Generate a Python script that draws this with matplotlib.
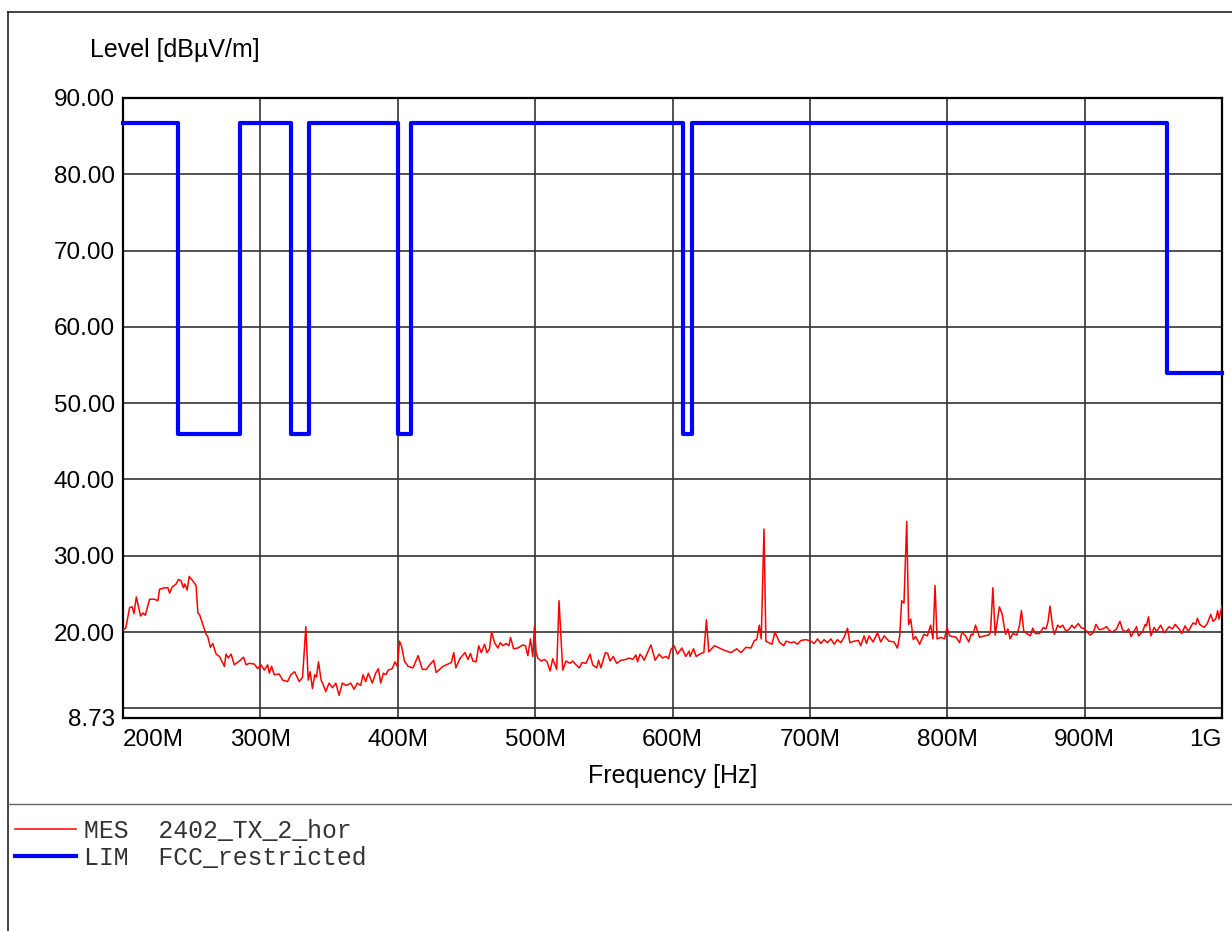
import matplotlib.pyplot as plt
from matplotlib.lines import Line2D

mes_freq = [200.0, 202.0, 204.8, 206.7, 208.0, 209.7, 212.8, 214.5, 216.2, 219.4,
            223.0, 225.4, 226.6, 230.3, 232.7, 233.9, 235.8, 238.7, 240.4, 242.3,
            244.0, 245.0, 246.7, 248.2, 250.8, 253.2, 254.5, 255.7, 258.1, 260.5,
            261.7, 263.6, 265.3, 267.8, 270.2, 273.8, 275.0, 276.7, 278.7, 281.0,
            284.7, 287.8, 289.6, 292.0, 295.6, 298.0, 300.4, 302.9, 305.3, 306.5,
            308.2, 310.1, 313.7, 316.2, 319.8, 322.2, 324.9, 328.3, 330.7, 333.1,
            334.8, 336.2, 337.9, 339.6, 340.8, 342.3, 344.2, 345.7, 347.6, 350.0,
            352.5, 354.9, 357.3, 359.7, 362.6, 365.8, 368.2, 370.6, 373.0, 374.7,
            376.6, 378.6, 381.5, 383.9, 385.9, 387.6, 389.5, 391.3, 393.0, 396.0,
            398.0, 399.7, 401.3, 402.7, 404.9, 407.5, 411.1, 414.8, 417.9, 420.8,
            423.2, 426.2, 428.0, 430.5, 433.0, 435.4, 439.0, 440.8, 442.3, 445.2,
            448.9, 451.2, 452.9, 454.7, 457.1, 458.9, 460.8, 463.2, 464.9, 466.8,
            468.3, 470.5, 472.9, 474.6, 476.5, 478.9, 480.9, 482.1, 484.3, 487.4,
            491.0, 493.0, 494.7, 496.6, 498.3, 499.5, 500.7, 501.9, 504.4, 506.8,
            508.7, 510.9, 512.8, 515.7, 517.4, 520.1, 522.5, 525.4, 527.4, 529.8,
            532.2, 534.1, 537.0, 540.0, 541.9, 544.8, 546.2, 547.9, 551.1, 552.8,
            554.5, 556.9, 559.3, 562.5, 566.1, 568.5, 571.0, 573.4, 574.6, 576.3,
            578.2, 579.4, 581.8, 584.3, 587.4, 590.3, 592.7, 595.2, 597.1, 598.8,
            601.2, 603.6, 606.8, 609.7, 612.1, 612.8, 615.3, 617.2, 620.8, 622.8,
            624.7, 626.4, 630.5, 634.1, 637.8, 642.6, 646.7, 649.9, 653.5, 657.1,
            659.6, 661.3, 663.2, 664.6, 666.6, 668.0, 672.4, 674.6, 677.7, 680.9,
            682.6, 686.2, 688.6, 691.0, 693.5, 697.1, 700.7, 703.1, 705.6, 708.0,
            710.4, 712.8, 715.3, 717.7, 720.1, 722.5, 724.9, 727.4, 729.1, 732.2,
            735.4, 737.0, 739.5, 741.2, 743.1, 746.0, 749.2, 751.6, 754.0, 757.6,
            761.3, 763.7, 765.4, 766.8, 768.5, 770.5, 771.9, 773.4, 775.3, 777.0,
            779.9, 783.0, 785.5, 787.9, 789.6, 791.1, 792.6, 795.4, 798.0, 799.8,
            801.7, 804.1, 806.5, 809.0, 810.7, 813.3, 815.7, 817.4, 818.6, 820.6,
            823.5, 827.1, 830.3, 831.5, 833.2, 834.9, 838.0, 840.0, 842.4, 844.1,
            845.8, 847.7, 850.6, 852.5, 854.0, 855.7, 858.6, 860.5, 862.2, 864.2,
            867.1, 870.0, 871.9, 873.4, 874.8, 876.8, 878.0, 880.4, 882.1, 884.0,
            886.4, 888.9, 890.8, 892.5, 895.4, 897.3, 899.8, 901.5, 903.9, 906.3,
            908.2, 910.7, 913.1, 916.0, 917.9, 920.3, 923.2, 925.7, 927.6, 930.0,
            932.0, 933.8, 936.0, 937.8, 939.2, 942.1, 944.1, 945.0, 946.5, 948.2,
            950.6, 952.5, 955.4, 957.9, 961.5, 963.9, 965.9, 968.8, 970.7, 973.1,
            975.5, 978.9, 980.9, 982.1, 983.8, 986.9, 989.3, 991.8, 993.5, 995.4,
            996.9, 997.8, 1000.0]
mes_level = [20.3, 20.5, 23.2, 23.3, 22.4, 24.6, 22.1, 22.5, 22.2, 24.3,
             24.3, 24.1, 25.6, 25.8, 25.8, 25.1, 25.9, 26.3, 26.9, 26.7,
             25.8, 26.3, 25.5, 27.3, 26.7, 26.1, 22.5, 22.3, 21.0, 19.7,
             19.4, 18.0, 18.5, 17.1, 16.8, 15.5, 17.1, 16.6, 17.1, 15.7,
             16.2, 16.7, 15.7, 15.9, 15.8, 15.2, 15.7, 15.0, 15.7, 14.6,
             15.5, 14.4, 14.5, 13.7, 13.5, 14.4, 14.8, 13.5, 14.1, 20.7,
             13.7, 14.8, 12.6, 14.4, 14.1, 16.1, 13.7, 13.1, 12.2, 13.3,
             12.7, 13.3, 11.7, 13.3, 13.0, 13.3, 12.5, 13.3, 13.0, 14.4,
             13.5, 14.6, 13.3, 14.6, 15.2, 13.3, 14.6, 14.4, 15.0, 15.2,
             16.1, 15.5, 18.8, 18.2, 16.2, 15.5, 15.3, 16.9, 15.1, 15.1,
             15.7, 16.3, 14.7, 15.1, 15.5, 15.7, 16.0, 17.3, 15.3, 16.5,
             17.3, 16.4, 17.2, 16.2, 16.1, 18.2, 17.3, 18.4, 17.3, 17.8,
             20.0, 18.6, 17.9, 18.6, 18.2, 18.5, 18.2, 19.3, 17.8, 17.9,
             18.3, 18.2, 16.9, 19.1, 16.8, 20.7, 17.3, 16.6, 16.2, 16.4,
             16.1, 14.9, 16.5, 15.1, 24.1, 15.0, 16.2, 15.9, 16.2, 15.7,
             15.3, 16.0, 15.9, 17.1, 15.7, 15.3, 16.3, 15.3, 17.3, 17.2,
             16.2, 16.8, 15.9, 16.3, 16.4, 16.6, 16.4, 17.0, 16.1, 17.1,
             16.7, 16.3, 17.3, 18.3, 16.3, 17.1, 16.6, 16.8, 16.5, 17.7,
             18.2, 17.1, 17.9, 16.8, 17.5, 16.8, 17.8, 16.8, 17.2, 17.3,
             21.6, 17.4, 18.2, 17.9, 17.6, 17.3, 17.8, 17.3, 18.0, 17.9,
             18.9, 19.0, 20.9, 19.1, 33.5, 18.8, 18.4, 20.0, 18.7, 18.2,
             18.8, 18.6, 18.7, 18.4, 18.9, 19.0, 18.8, 18.5, 19.1, 18.5,
             19.0, 18.6, 19.1, 18.4, 19.0, 18.6, 19.3, 20.5, 18.6, 18.8,
             18.9, 18.2, 19.5, 18.5, 19.5, 18.7, 19.9, 18.7, 19.5, 18.8,
             18.7, 17.9, 19.5, 24.1, 23.8, 34.5, 21.0, 21.7, 19.0, 19.4,
             18.4, 19.7, 19.5, 20.9, 19.1, 26.1, 19.1, 19.3, 19.1, 20.6,
             19.5, 19.4, 19.3, 18.6, 20.0, 19.5, 18.7, 19.7, 19.6, 20.9,
             19.3, 19.5, 19.6, 20.0, 25.8, 19.6, 23.3, 22.3, 19.7, 20.4,
             19.1, 19.8, 19.6, 20.8, 22.8, 20.1, 19.7, 19.5, 20.5, 19.8,
             19.8, 20.6, 20.4, 21.4, 23.4, 20.6, 19.7, 20.9, 20.6, 20.9,
             20.1, 20.4, 20.9, 20.5, 21.1, 20.6, 20.4, 20.1, 19.6, 19.9,
             21.0, 20.3, 20.4, 20.7, 20.2, 20.0, 20.4, 21.4, 20.3, 20.0,
             20.4, 19.4, 20.1, 20.7, 19.5, 20.0, 21.0, 20.8, 22.0, 19.5,
             20.6, 20.1, 20.9, 19.9, 20.7, 20.4, 21.0, 20.4, 19.8, 20.8,
             20.1, 21.2, 21.0, 21.8, 21.0, 20.6, 21.1, 22.3, 21.4, 21.7,
             22.8, 21.7, 23.4]

# FCC restricted-band limit (step line)
lim_freq = [200, 240, 285, 322, 335.4, 399.9, 410, 608, 614, 960, 1000]
lim_level = [86.73, 46.0, 86.73, 46.0, 86.73, 46.0, 86.73, 46.0, 86.73, 54.0, 54.0]

x_ticks = [200, 300, 400, 500, 600, 700, 800, 900, 1000]
x_labels = ['200M', '300M', '400M', '500M', '600M', '700M', '800M', '900M', '1G']
y_ticks = [8.73, 10, 20, 30, 40, 50, 60, 70, 80, 90]
y_labels = ['8.73', '', '20.00', '30.00', '40.00', '50.00', '60.00', '70.00', '80.00', '90.00']

W, H = 1232, 931
fig = plt.figure(figsize=(W / 100, H / 100), dpi=100)
ax = fig.add_axes([123 / W, 1 - 718 / H, (1222 - 123) / W, (718 - 98) / H])

ax.plot(mes_freq, mes_level, color='#ff0000', lw=1.1, label='MES  2402_TX_2_hor', zorder=3)
ax.plot(lim_freq, lim_level, color='#0000ff', lw=3.0, drawstyle='steps-post',
        label='LIM  FCC_restricted', zorder=4, clip_on=False)

ax.set_xlim(200, 1000)
ax.set_ylim(8.73, 90)
ax.set_xticks(x_ticks)
ax.set_xticklabels(x_labels, fontsize=17.5, family='Liberation Sans')
ax.set_yticks(y_ticks)
ax.set_yticklabels(y_labels, fontsize=17.5, family='Liberation Sans')
ax.tick_params(axis='both', length=0)
ax.tick_params(axis='y', pad=6)
ax.tick_params(axis='x', pad=8)
xl = ax.get_xticklabels()
xl[0].set_ha('left')
xl[-1].set_ha('right')
ax.grid(True, color='#333333', lw=1.2)
for s in ax.spines.values():
    s.set_linewidth(1.6)
    s.set_color('black')

fig.text(673 / W, 1 - 776 / H, 'Frequency [Hz]', ha='center', va='center',
         fontsize=18, family='Liberation Sans')
fig.text(90 / W, 1 - 50 / H, 'Level [dBµV/m]', ha='left', va='center',
         fontsize=18, family='Liberation Sans')

# outer frame and legend separator
fig.add_artist(Line2D([8 / W, 8 / W], [0, 1 - 12 / H], color='#222222', lw=1.2))
fig.add_artist(Line2D([8 / W, 1], [1 - 12 / H, 1 - 12 / H], color='#222222', lw=1.2))
fig.add_artist(Line2D([8 / W, 1], [1 - 804 / H, 1 - 804 / H], color='#666666', lw=1.0))

leg = fig.legend(loc='upper left', bbox_to_anchor=(15 / W, 1 - 819 / H), frameon=False,
                 prop={'family': 'Liberation Mono', 'size': 17.8}, handlelength=2.45,
                 handletextpad=0.33, labelspacing=0.12, borderpad=0, borderaxespad=0)
for t in leg.get_texts():
    t.set_color('#333333')

fig.savefig('out.png', dpi=100)
